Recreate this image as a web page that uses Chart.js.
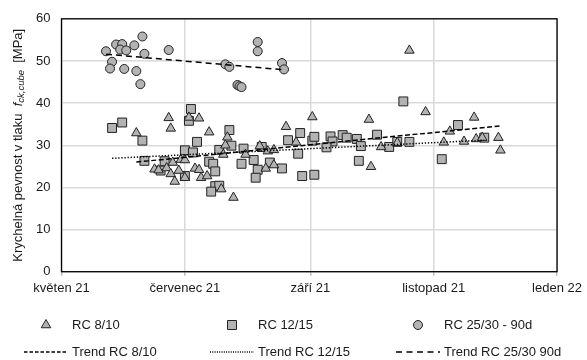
<!DOCTYPE html>
<html lang="cs">
<head>
<meta charset="UTF-8">
<title>Krychelná pevnost v tlaku</title>
<script src="https://cdn.jsdelivr.net/npm/chart.js@4.4.1/dist/chart.umd.min.js"></script>
<style>
  html, body { margin: 0; padding: 0; background: #fff; }
  #wrap { width: 587px; height: 360px; }
</style>
</head>
<body>
<div id="wrap"><canvas id="strengthChart" width="587" height="360"></canvas></div>
<script>
// ==========================================
// 1. DATA
// ==========================================
const monthTickDates = ['2021-05-01', '2021-07-01', '2021-09-01', '2021-11-01', '2022-01-01'];
const monthTickLabels = ['květen 21', 'červenec 21', 'září 21', 'listopad 21', 'leden 22'];

// RC 8/10 (triangles)
const rc810Dates = [
  '2021-06-07', '2021-06-23', '2021-06-24', '2021-07-03', '2021-07-08', '2021-07-13',
  '2021-06-16', '2021-06-18', '2021-06-22', '2021-06-25', '2021-06-24', '2021-06-26',
  '2021-06-28', '2021-06-29', '2021-07-01', '2021-07-01', '2021-07-06', '2021-07-08',
  '2021-07-09', '2021-07-12', '2021-07-19', '2021-07-22', '2021-07-21', '2021-07-20',
  '2021-07-25', '2021-07-31', '2021-08-07', '2021-08-10', '2021-08-11', '2021-08-14',
  '2021-08-14', '2021-08-20', '2021-08-25', '2021-09-02', '2021-09-30', '2021-10-06',
  '2021-10-01', '2021-10-14', '2021-10-20', '2021-10-28', '2021-11-06', '2021-11-09',
  '2021-11-16', '2021-11-21', '2021-11-22', '2021-11-25', '2021-12-03', '2021-12-04'
];
const rc810Values = [
  32.9, 36.5, 34.0, 36.6, 36.4, 33.1,
  24.3, 24.1, 24.6, 25.9, 23.2, 21.4,
  24.0, 26.6, 26.5, 22.3, 24.5, 24.2,
  22.3, 22.7, 19.6, 31.9, 30.0, 27.8,
  17.6, 27.8, 29.8, 24.5, 28.6, 28.9,
  25.3, 34.4, 30.7, 36.7, 36.1, 29.6,
  24.9, 30.6, 52.5, 37.9, 30.7, 33.3,
  30.9, 36.6, 31.5, 31.8, 31.8, 28.8
];

// RC 12/15 (squares)
const rc1215Dates = [
  '2021-05-26', '2021-05-31', '2021-06-10', '2021-07-04', '2021-07-03', '2021-07-07',
  '2021-07-01', '2021-07-05', '2021-06-11', '2021-06-21', '2021-06-19', '2021-07-01',
  '2021-07-23', '2021-07-24', '2021-07-30', '2021-07-18', '2021-07-13', '2021-07-15',
  '2021-07-16', '2021-07-16', '2021-07-18', '2021-07-14', '2021-07-29', '2021-08-04',
  '2021-08-06', '2021-08-05', '2021-08-08', '2021-08-12', '2021-08-18', '2021-08-21',
  '2021-08-27', '2021-08-26', '2021-08-28', '2021-09-02', '2021-09-03', '2021-09-03',
  '2021-09-11', '2021-09-12', '2021-09-09', '2021-09-17', '2021-09-19', '2021-09-24',
  '2021-09-26', '2021-09-25', '2021-10-04', '2021-10-10', '2021-10-14', '2021-10-20',
  '2021-10-17', '2021-11-05', '2021-11-13', '2021-11-26'
];
const rc1215Values = [
  34.1, 35.4, 31.1, 38.6, 35.8, 30.8,
  28.8, 28.3, 26.3, 26.2, 24.0, 22.7,
  33.6, 29.9, 29.2, 28.9, 26.1, 25.6,
  23.8, 20.3, 20.4, 19.0, 25.6, 26.5,
  24.2, 22.3, 29.6, 25.9, 24.5, 31.2,
  32.9, 28.0, 22.7, 31.1, 32.0, 23.0,
  32.1, 30.9, 29.5, 32.4, 31.8, 31.5,
  29.8, 26.3, 32.5, 29.6, 30.8, 30.8,
  40.4, 26.7, 34.8, 31.8
];

// RC 25/30 - 90d (circles)
const rc2530Dates = [
  '2021-05-23', '2021-05-26', '2021-05-25', '2021-05-28', '2021-05-31', '2021-05-30',
  '2021-06-02', '2021-06-01', '2021-06-06', '2021-06-10', '2021-06-11', '2021-06-07',
  '2021-06-09', '2021-06-23', '2021-07-21', '2021-07-23', '2021-07-27', '2021-07-28',
  '2021-07-29', '2021-08-06', '2021-08-06', '2021-08-18', '2021-08-19'
];
const rc2530Values = [
  52.3, 49.8, 48.2, 53.9, 54.0, 52.7,
  52.5, 48.1, 53.7, 55.8, 51.7, 47.6,
  44.5, 52.6, 49.2, 48.6, 44.3, 44.0,
  43.8, 54.5, 52.3, 49.5, 48.0
];

// trend lines (end points)
const trend810Dates = ['2021-06-07', '2021-12-04'];
const trend810Values = [26.0, 34.6];
const trend1215Dates = ['2021-05-26', '2021-11-26'];
const trend1215Values = [26.9, 31.2];
const trend2530Dates = ['2021-05-23', '2021-08-19'];
const trend2530Values = [51.6, 47.9];

// ==========================================
// 2. HELPERS & STYLE
// ==========================================
const FONT_FAMILY = '"Liberation Sans", Arial, sans-serif';
const TEXT_COLOR = '#1a1a1a';
const MARKER_FILL = '#b3b3b3';
const MARKER_EDGE = '#222222';
const GRID_COLOR = '#dadada';

const toPoints = (dates, values) => dates.map((d, i) => ({ x: Date.parse(d), y: values[i] }));

const legendItems = [
  { label: 'RC 8/10', marker: 'triangle' },
  { label: 'RC 12/15', marker: 'square' },
  { label: 'RC 25/30 - 90d', marker: 'circle' },
  { label: 'Trend RC 8/10', dash: [3.5, 2] },
  { label: 'Trend RC 12/15', dash: [1, 1.3] },
  { label: 'Trend RC 25/30 90d', dash: [6, 4.5] }
];

function drawMarker(ctx, kind, x, y) {
  ctx.beginPath();
  if (kind === 'triangle') {
    const r = 5.5;
    ctx.moveTo(x, y - r);
    ctx.lineTo(x + r * 0.866, y + r * 0.5);
    ctx.lineTo(x - r * 0.866, y + r * 0.5);
    ctx.closePath();
  } else if (kind === 'square') {
    ctx.rect(x - 4.5, y - 4.5, 9, 9);
  } else {
    ctx.arc(x, y, 4.5, 0, Math.PI * 2);
  }
  ctx.fillStyle = MARKER_FILL;
  ctx.strokeStyle = MARKER_EDGE;
  ctx.lineWidth = 1;
  ctx.fill();
  ctx.stroke();
}

// box round the plot area
const frameBox = {
  id: 'frameBox',
  beforeDatasetsDraw(chart) {
    const { ctx, chartArea: a } = chart;
    ctx.save();
    ctx.strokeStyle = '#000';
    ctx.lineWidth = 1.3;
    ctx.strokeRect(a.left, a.top, a.right - a.left, a.bottom - a.top);
    ctx.restore();
  }
};

// rotated y title with italic subscript
const yTitle = {
  id: 'yTitle',
  afterDraw(chart) {
    const { ctx, chartArea: a } = chart;
    const parts = [
      { text: 'Krychelná pevnost v tlaku  ', font: '13px ' + FONT_FAMILY, dy: 0 },
      { text: 'f', font: 'italic 13px ' + FONT_FAMILY, dy: 0 },
      { text: 'ck,cube', font: 'italic 9.5px ' + FONT_FAMILY, dy: 3 },
      { text: '  [MPa]', font: '13px ' + FONT_FAMILY, dy: 0 }
    ];
    ctx.save();
    let total = 0;
    parts.forEach(p => { ctx.font = p.font; p.w = ctx.measureText(p.text).width; total += p.w; });
    ctx.translate(18, (a.top + a.bottom) / 2);
    ctx.rotate(-Math.PI / 2);
    ctx.fillStyle = TEXT_COLOR;
    ctx.textBaseline = 'middle';
    let x = -total / 2;
    parts.forEach(p => { ctx.font = p.font; ctx.fillText(p.text, x, p.dy); x += p.w; });
    ctx.restore();
  }
};

// two-row legend below the chart
const bottomLegend = {
  id: 'bottomLegend',
  afterDraw(chart) {
    const ctx = chart.ctx;
    const colText = [72, 258, 444];
    const rowY = [325, 352];
    ctx.save();
    ctx.font = '13px ' + FONT_FAMILY;
    ctx.textBaseline = 'middle';
    legendItems.forEach((item, i) => {
      const col = i % 3;
      const y = rowY[Math.floor(i / 3)];
      const tx = colText[col];
      if (item.marker) {
        drawMarker(ctx, item.marker, tx - 26, y);
      } else {
        ctx.beginPath();
        ctx.setLineDash(item.dash);
        ctx.strokeStyle = '#000';
        ctx.lineWidth = 1.3;
        ctx.moveTo(tx - 48, y);
        ctx.lineTo(tx - 4, y);
        ctx.stroke();
        ctx.setLineDash([]);
      }
      ctx.fillStyle = TEXT_COLOR;
      ctx.fillText(item.label, tx, y);
    });
    ctx.restore();
  }
};

// ==========================================
// 3. CHART
// ==========================================
function trendDataset(label, dates, values, dash) {
  return {
    label: label,
    data: toPoints(dates, values),
    showLine: true,
    borderColor: '#000',
    borderWidth: 1.5,
    borderDash: dash,
    pointRadius: 0,
    fill: false
  };
}

function markerDataset(label, dates, values, style, radius) {
  return {
    label: label,
    data: toPoints(dates, values),
    showLine: false,
    pointStyle: style,
    pointRadius: radius,
    backgroundColor: MARKER_FILL,
    borderColor: MARKER_EDGE,
    borderWidth: 1
  };
}

const tickFont = { family: FONT_FAMILY, size: 13 };

new Chart(document.getElementById('strengthChart'), {
  type: 'scatter',
  data: {
    datasets: [
      trendDataset('Trend RC 8/10', trend810Dates, trend810Values, [5, 2.5]),
      trendDataset('Trend RC 12/15', trend1215Dates, trend1215Values, [1.3, 1.8]),
      trendDataset('Trend RC 25/30 90d', trend2530Dates, trend2530Values, [6, 4]),
      markerDataset('RC 8/10', rc810Dates, rc810Values, 'triangle', 5.5),
      markerDataset('RC 12/15', rc1215Dates, rc1215Values, 'rect', 6.3),
      markerDataset('RC 25/30 - 90d', rc2530Dates, rc2530Values, 'circle', 4.5)
    ]
  },
  options: {
    responsive: false,
    animation: false,
    events: [],
    layout: { padding: { left: 0, right: 27, top: 17, bottom: 0 } },
    plugins: {
      legend: { display: false },
      tooltip: { enabled: false }
    },
    scales: {
      x: {
        type: 'linear',
        min: Date.parse(monthTickDates[0]),
        max: Date.parse(monthTickDates[monthTickDates.length - 1]),
        afterBuildTicks: scale => { scale.ticks = monthTickDates.map(d => ({ value: Date.parse(d) })); },
        ticks: {
          callback: (value, index) => monthTickLabels[index],
          font: tickFont,
          color: TEXT_COLOR,
          padding: 5,
          maxRotation: 0,
          autoSkip: false
        },
        grid: { color: GRID_COLOR, lineWidth: 1.5, tickLength: 4, tickColor: '#bdbdbd' },
        border: { display: false },
        afterFit: scale => { scale.height = 88.3; }
      },
      y: {
        min: 0,
        max: 60,
        ticks: { stepSize: 10, padding: 11, font: tickFont, color: TEXT_COLOR },
        grid: { color: GRID_COLOR, lineWidth: 1.5, drawTicks: false },
        border: { display: false },
        afterFit: scale => { scale.width = 61.5; }
      }
    }
  },
  plugins: [frameBox, yTitle, bottomLegend]
});
</script>
</body>
</html>
